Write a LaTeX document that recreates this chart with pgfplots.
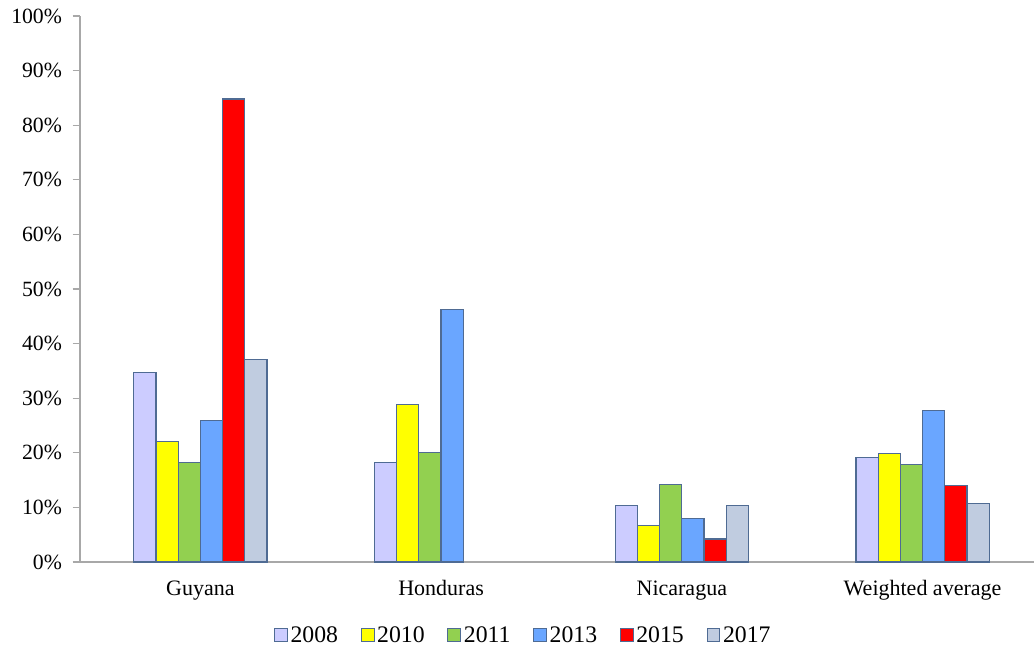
\documentclass[border=0pt]{standalone}
\usepackage{fontspec}
\setmainfont{Liberation Serif}
\usepackage{pgfplots}
\pgfplotsset{compat=1.18}
\definecolor{axgrey}{HTML}{A8A8A8}
\definecolor{edgec}{HTML}{4F6B93}
\definecolor{cA}{HTML}{CCCCFF}
\definecolor{cB}{HTML}{FFFF00}
\definecolor{cC}{HTML}{92D050}
\definecolor{cD}{HTML}{6AA6FF}
\definecolor{cE}{HTML}{FF0000}
\definecolor{cF}{HTML}{C0CCE0}
\begin{document}
\begin{tikzpicture}
\begin{axis}[
  name=ax,
  scale only axis,
  width=715.5pt, height=409.5pt,
  xmin=-0.5, xmax=3.463,
  ymin=0, ymax=100,
  axis x line*=bottom, axis y line*=left,
  axis line style={axgrey, line width=0.9pt},
  ybar=0pt, bar width=16.65pt,
  xtick={0,1,2,3},
  xticklabels={Guyana,Honduras,Nicaragua,Weighted average},
  major x tick style={draw=none},
  extra x ticks={0.5,1.5,2.5},
  extra x tick labels={},
  extra x tick style={tick style={axgrey, line width=0.9pt}, major tick length=5.5pt, tick align=outside},
  ytick={0,10,...,100},
  yticklabel={\pgfmathprintnumber{\tick}\%},
  y tick style={axgrey, line width=0.9pt},
  major tick length=5.5pt,
  tick align=outside,
  /pgf/number format/assume math mode=true,
  tick label style={font=\rmfamily\fontsize{16.3}{19}\selectfont, black},
  yticklabel style={xshift=-4.5pt},
  xticklabel style={font=\rmfamily\fontsize{16.5}{19}\selectfont, yshift=-5pt},
  every axis plot/.append style={draw=edgec, line width=0.9pt},
  legend style={draw=none, fill=none, at={(0.465,-0.134)}, anchor=center,
    legend columns=-1, font=\rmfamily\fontsize{17.8}{20}\selectfont,
    /tikz/every even column/.append style={column sep=15pt},
    inner xsep=0pt},
  legend image code/.code={\draw[#1, draw=edgec, line width=0.8pt] (0pt,-4.8pt) rectangle (9.6pt,4.8pt);},
  clip=false,
]
\addplot[fill=cA] coordinates {(0,34.7) (1,18.2) (2,10.4) (3,19.1)};
\addplot[fill=cB] coordinates {(0,22.0) (1,28.9) (2,6.7) (3,19.9)};
\addplot[fill=cC] coordinates {(0,18.2) (1,20.0) (2,14.2) (3,17.8)};
\addplot[fill=cD] coordinates {(0,25.9) (1,46.3) (2,8.0) (3,27.8)};
\addplot[fill=cE] coordinates {(0,84.8) (2,4.2) (3,14.0)};
\addplot[fill=cF] coordinates {(0,37.1) (2,10.4) (3,10.7)};
\legend{2008,2010,2011,2013,2015,2017}
\end{axis}
\pgfresetboundingbox
\path[use as bounding box] ([xshift=-60pt,yshift=-64.5pt]ax.south west) rectangle ([yshift=12pt]ax.north east);
\end{tikzpicture}
\end{document}
